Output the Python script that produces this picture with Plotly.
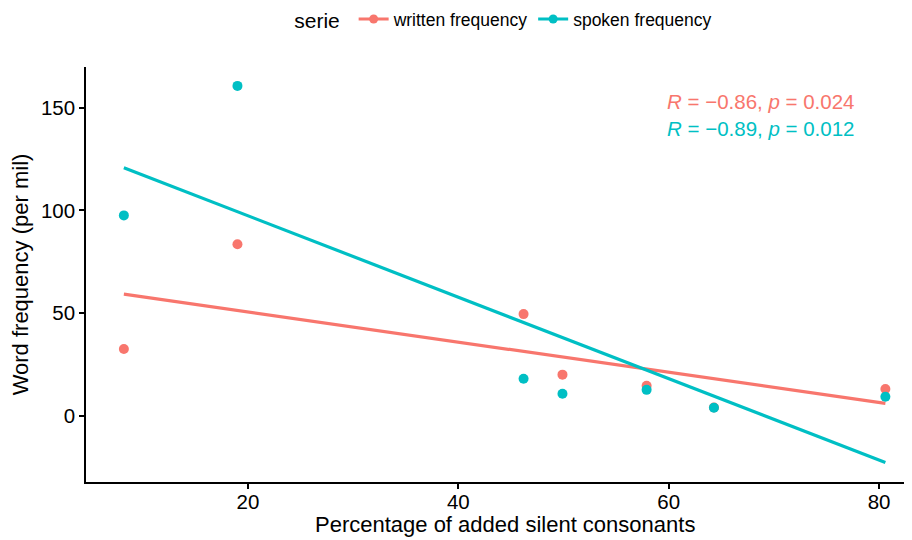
import numpy as np
import plotly.graph_objects as go

# percentage of added silent consonants
pct = [8.2, 19.0, 46.2, 49.9, 57.9, 64.3, 80.6]
written = [32.5, 83.5, 49.5, 20.0, 14.6, 4.0, 13.0]
spoken = [97.6, 160.7, 18.0, 10.7, 12.6, 3.9, 9.2]

series = ["written frequency", "spoken frequency"]
colors = ["#F8766D", "#00BFC4"]
stats = ["<i>R</i> = \u22120.86, <i>p</i> = 0.024", "<i>R</i> = \u22120.89, <i>p</i> = 0.012"]

fig = go.Figure()

for name, vals, col in zip(series, [written, spoken], colors):
    # linear fit, like geom_smooth(method = "lm")
    slope, icpt = np.polyfit(pct, vals, 1)
    xs = [min(pct), max(pct)]
    fig.add_trace(go.Scatter(x=xs, y=[icpt + slope * v for v in xs], mode="lines",
                             line=dict(color=col, width=3.2), showlegend=False, hoverinfo="skip"))

for name, vals, col in zip(series, [written, spoken], colors):
    fig.add_trace(go.Scatter(x=pct, y=vals, mode="markers", marker=dict(color=col, size=10),
                             showlegend=False, name=name))
    # legend key
    fig.add_trace(go.Scatter(x=[None], y=[None], mode="lines+markers", name=name,
                             line=dict(color=col, width=3.2), marker=dict(color=col, size=9)))

for i, (txt, col) in enumerate(zip(stats, colors)):
    fig.add_annotation(x=0.933, y=0.918 - i * 0.067, xref="paper", yref="paper", text=txt,
                       showarrow=False, xanchor="right", yanchor="middle",
                       font=dict(size=20.5, color=col))

# x axis title as annotation so it sits where the reference has it
fig.add_annotation(x=0.507, y=-0.1036, xref="paper", yref="paper",
                   text="Percentage of added silent consonants", showarrow=False,
                   xanchor="center", yanchor="middle", font=dict(size=22, color="black"))

axis_style = dict(showgrid=False, zeroline=False, showline=True, linecolor="black", linewidth=1.5,
                  ticks="outside", ticklen=5, tickcolor="black", tickwidth=1.5,
                  tickfont=dict(size=20.5, color="black"))

fig.update_xaxes(range=[4.6, 83.13], tickvals=[20, 40, 60, 80], ticklabelstandoff=-4, **axis_style)
fig.update_yaxes(range=[-32.3, 169.9], tickvals=[0, 50, 100, 150], **axis_style,
                 title=dict(text="Word frequency (per mil)", font=dict(size=22, color="black"),
                            standoff=6))

# page body has an 8px margin, so the margins are shifted by that
fig.update_layout(
    width=912, height=540,
    margin=dict(l=78, r=8, t=59, b=66, autoexpand=False),
    plot_bgcolor="white", paper_bgcolor="white",
    font=dict(family="Liberation Sans, Arial, sans-serif", color="black"),
    legend=dict(orientation="h", x=0.507, xanchor="center", y=1.113, yanchor="middle",
                title=dict(text="serie ", font=dict(size=21)), font=dict(size=17.5),
                itemwidth=30),
)

fig.write_html("out.html")
